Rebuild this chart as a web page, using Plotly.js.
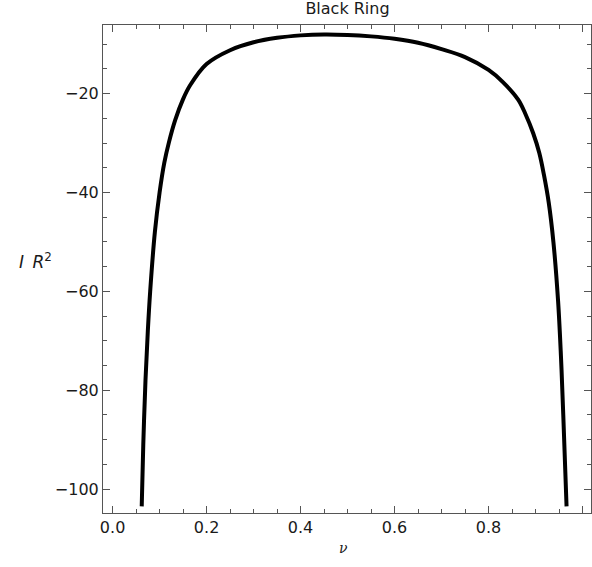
<!DOCTYPE html>
<html>
<head>
<meta charset="utf-8">
<script src="https://cdn.plot.ly/plotly-3.0.1.min.js"></script>
<style>html,body{margin:0;padding:0;background:#fff;}#chart{width:592px;height:567px;}</style>
</head>
<body>
<div id="chart"></div>
<script>
var nu = [0.062, 0.0653, 0.07, 0.075, 0.08, 0.09, 0.10, 0.11, 0.12, 0.133, 0.15, 0.165, 0.2, 0.25, 0.3, 0.35, 0.4, 0.45, 0.5, 0.55, 0.6, 0.65, 0.7, 0.75, 0.8, 0.83, 0.863, 0.878, 0.895, 0.908, 0.918, 0.928, 0.938, 0.948, 0.954, 0.959, 0.966];
var IR2 = [-103.5, -91, -78, -68, -60, -48, -40, -34, -29.8, -25.4, -21.1, -18.3, -14, -11.2, -9.6, -8.7, -8.2, -8.0, -8.1, -8.4, -8.9, -9.7, -11.0, -12.6, -15.2, -17.6, -21.2, -24, -28, -32, -36.5, -42, -50, -62, -73, -85, -103.5];
var xTickVals = [0, 0.2, 0.4, 0.6, 0.8, 1.0];
var xTickText = ['0.0', '0.2', '0.4', '0.6', '0.8', '1.0'];
var yTickVals = [-20, -40, -60, -80, -100];
var yTickText = ['\u221220', '\u221240', '\u221260', '\u221280', '\u2212100'];

var frame = '#555555';
var axisCommon = {
  showline: true, linecolor: frame, linewidth: 1, mirror: 'allticks',
  ticks: 'inside', ticklen: 7, tickwidth: 1, tickcolor: frame,
  showgrid: false, zeroline: false, fixedrange: true,
  tickfont: {family: 'DejaVu Sans', size: 16, color: '#1a1a1a'}
};

var trace = {
  x: nu, y: IR2, type: 'scatter', mode: 'lines',
  line: {color: '#000', width: 4, shape: 'spline', smoothing: 1},
  hoverinfo: 'none'
};

var layout = {
  width: 592, height: 567,
  margin: {l: 103, r: 1, t: 25, b: 54, pad: 0},
  paper_bgcolor: '#fff', plot_bgcolor: '#fff',
  showlegend: false,
  title: {text: 'Black Ring', x: 0.587, xanchor: 'center', y: 0.986, yanchor: 'middle',
          font: {family: 'DejaVu Sans', size: 16, color: '#1a1a1a'}},
  xaxis: Object.assign({}, axisCommon, {
    range: [-0.0204, 1.018], tickmode: 'array', tickvals: xTickVals, ticktext: xTickText,
    minor: {dtick: 0.05, tick0: 0, ticks: 'inside', ticklen: 4, tickcolor: frame, tickwidth: 1}
  }),
  yaxis: Object.assign({}, axisCommon, {
    range: [-104.85, -6.1], tickmode: 'array', tickvals: yTickVals, ticktext: yTickText,
    minor: {dtick: 5, tick0: 0, ticks: 'inside', ticklen: 4, tickcolor: frame, tickwidth: 1}
  }),
  annotations: [
    {text: '<i>I</i>\u2002<i>R</i><sup>2</sup>', xref: 'paper', yref: 'paper', x: -0.139, y: 0.516,
     xanchor: 'center', yanchor: 'middle', showarrow: false,
     font: {family: 'DejaVu Sans', size: 17, color: '#1a1a1a'}},
    {text: '<i>\u03bd</i>', xref: 'paper', yref: 'paper', x: 0.493, y: -0.0717,
     xanchor: 'center', yanchor: 'middle', showarrow: false,
     font: {family: 'DejaVu Serif', size: 14, color: '#1a1a1a'}}
  ]
};

Plotly.newPlot('chart', [trace], layout, {staticPlot: true, displayModeBar: false});
</script>
</body>
</html>
